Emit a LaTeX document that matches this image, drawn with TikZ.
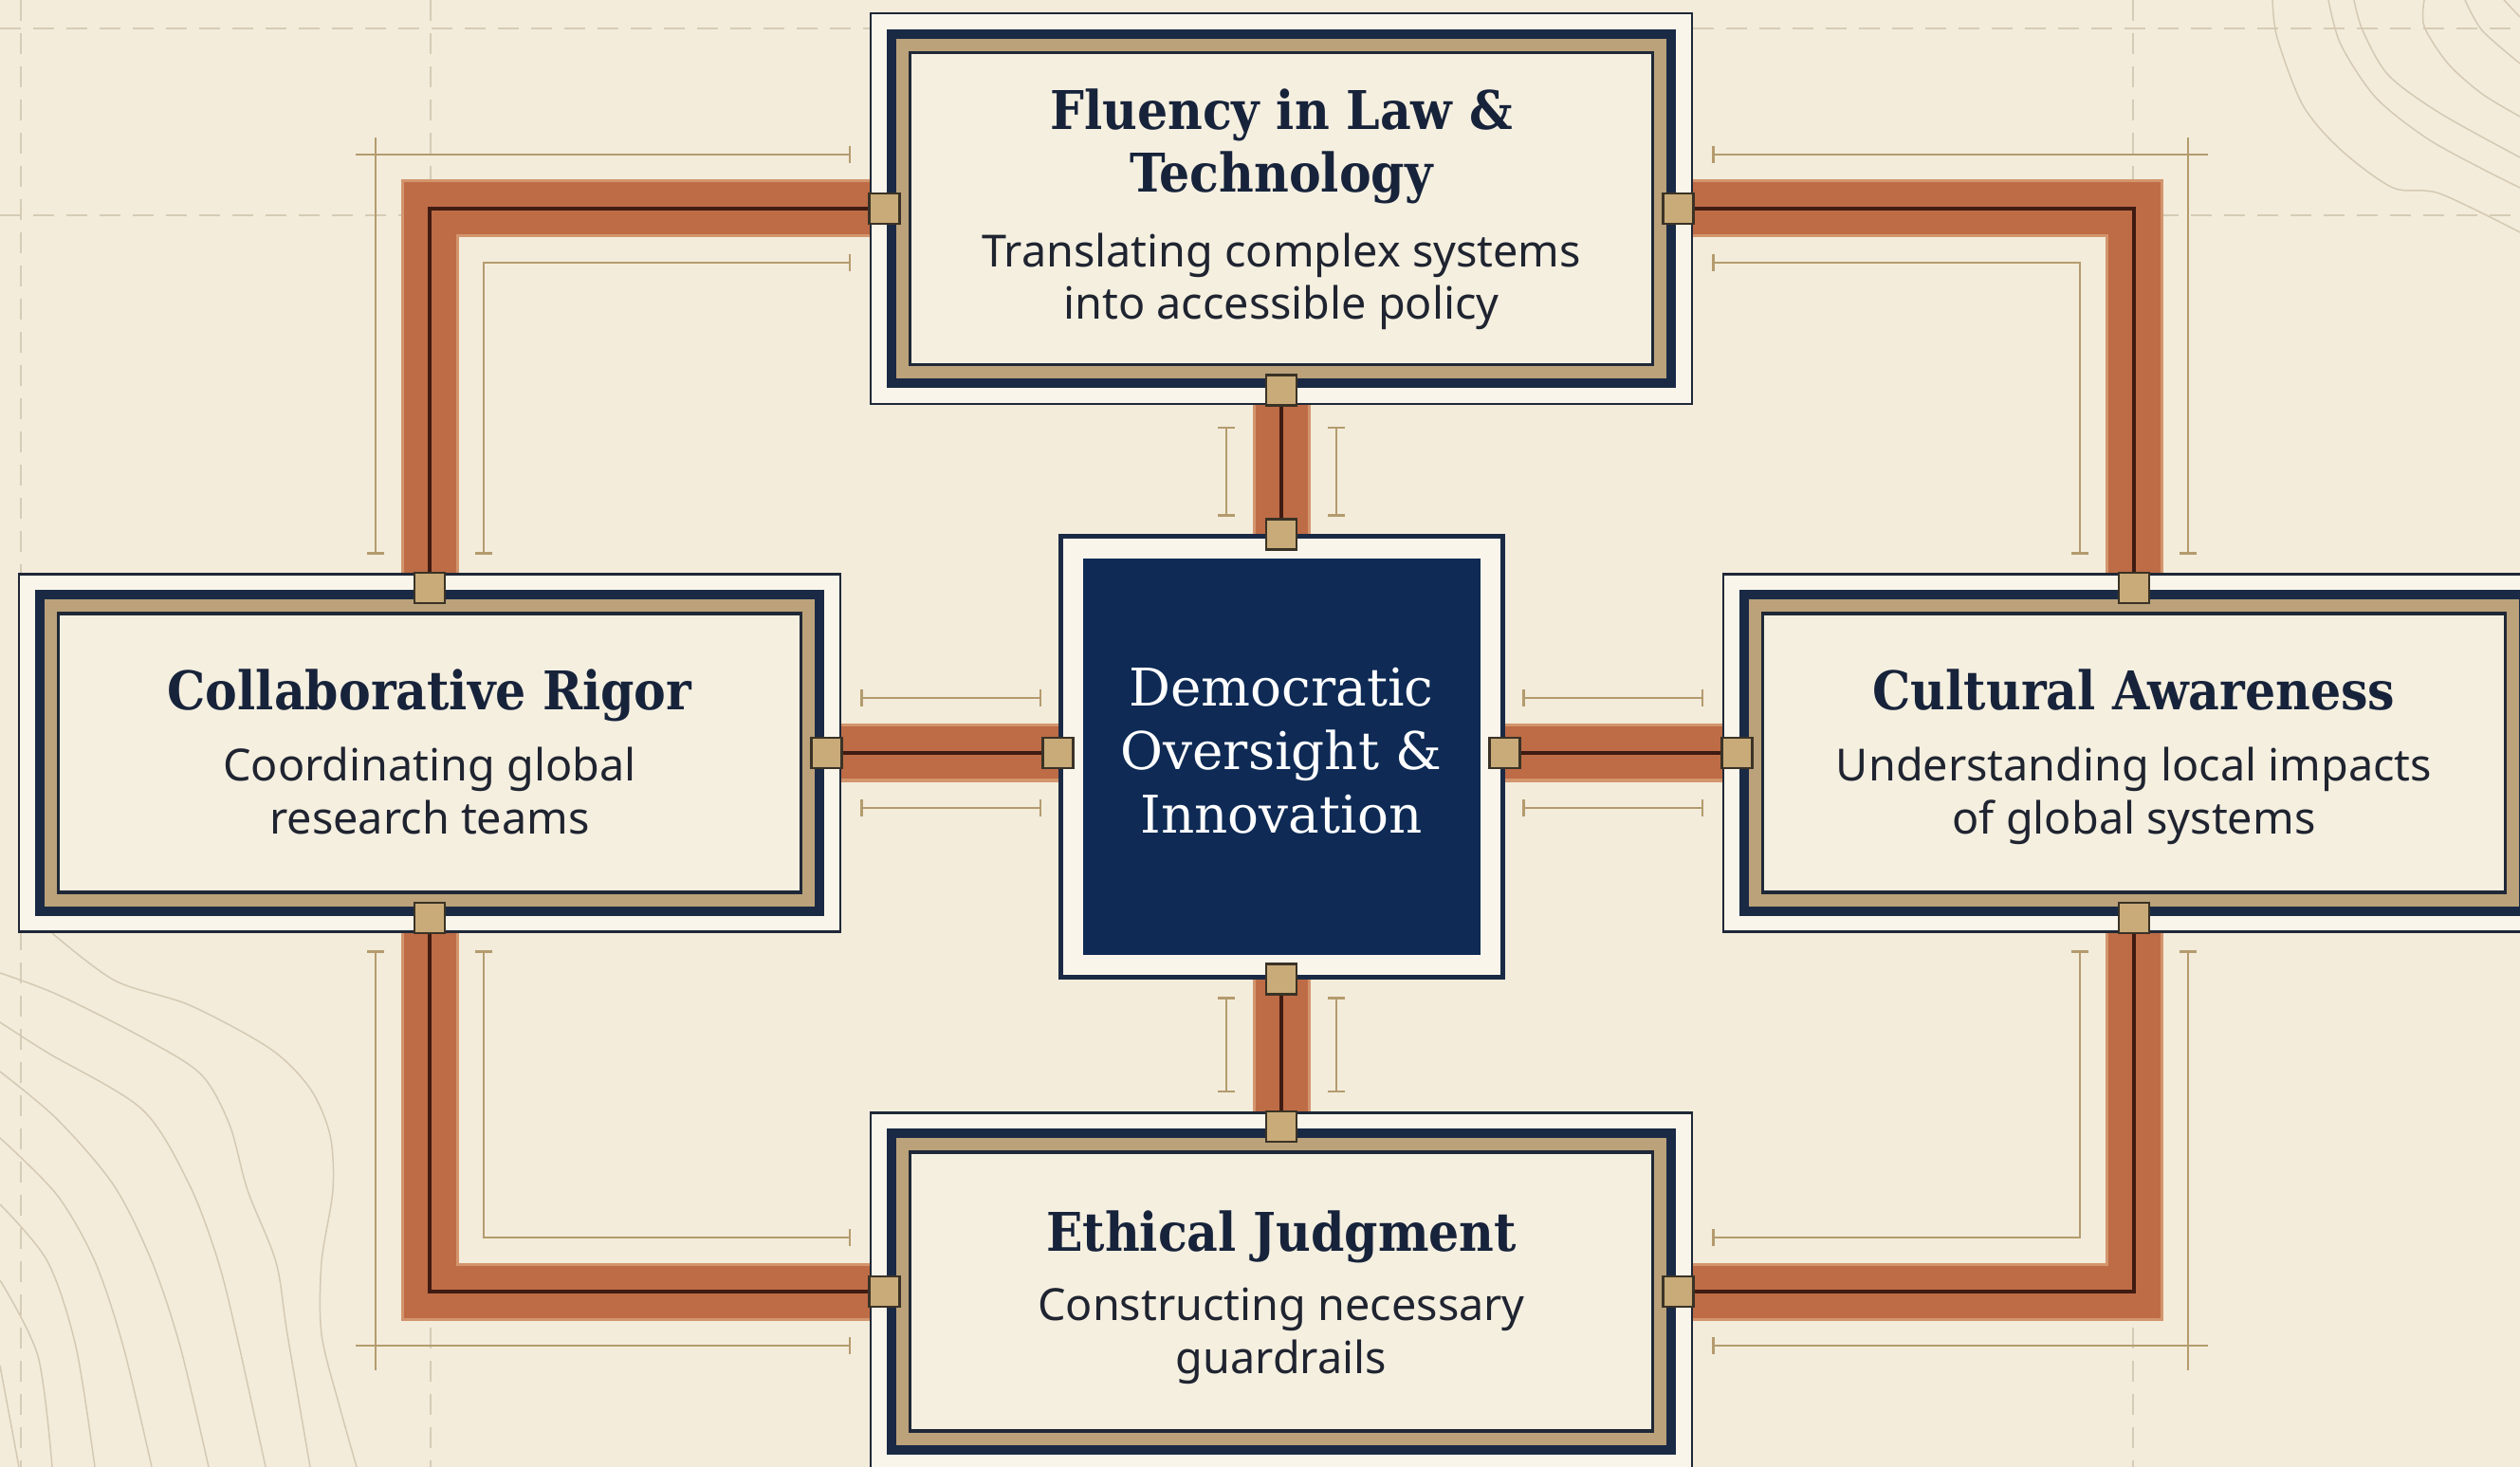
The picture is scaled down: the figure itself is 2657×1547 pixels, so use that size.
\documentclass[tikz,border=0pt]{standalone}
\usepackage{fontspec}
\usetikzlibrary{calc,arrows.meta}
\newfontfamily\headfont{DejaVu Serif Condensed}
\newfontfamily\corefont{DejaVu Serif}
\newfontfamily\notefont{Noto Sans}
\definecolor{paper}{HTML}{F3ECDB}
\definecolor{boxgap}{HTML}{F9F5EA}
\definecolor{boxfill}{HTML}{F5EFE0}
\definecolor{boxline}{HTML}{1F2837}
\definecolor{navy}{HTML}{1A2A45}
\definecolor{navyfill}{HTML}{0E2A55}
\definecolor{tan}{HTML}{BBA27A}
\definecolor{wirecolor}{HTML}{BE6C46}
\definecolor{wireglow}{HTML}{D3956D}
\definecolor{wireink}{HTML}{3F1B12}
\definecolor{jointfill}{HTML}{C8AB78}
\definecolor{jointline}{HTML}{3A3226}
\definecolor{dimcolor}{HTML}{B49B6E}
\definecolor{gridcolor}{HTML}{D6CBB5}
\definecolor{contourcolor}{HTML}{D5C9B3}
\definecolor{titleink}{HTML}{17233A}
\definecolor{noteink}{HTML}{1F2430}

\begin{document}
\begin{tikzpicture}[x=0.1mm,y=-0.1mm,
    pillar/.style={draw=boxline,line width=0.28mm,fill=boxgap,inner sep=0pt,minimum width=86.6mm},
    hub/.style={draw=navy,line width=0.5mm,fill=boxgap,inner sep=0pt,minimum width=46.6mm,minimum height=46.4mm},
    navyrule/.style={draw=navy,line width=1mm},
    tanrule/.style={draw=tan,line width=1.4mm},
    inkrule/.style={draw=boxline,line width=0.35mm},
    wire/.style={draw=wireglow,line width=6.1mm,line join=miter,
      postaction={draw=wirecolor,line width=5.5mm},
      postaction={draw=wireink,line width=0.35mm}},
    joint/.style={draw=jointline,line width=0.25mm,fill=jointfill,inner sep=0pt,minimum size=3.2mm},
    dimline/.style={draw=dimcolor,line width=0.25mm},
    tickend/.style={dimline,-{Bar[width=1.8mm]}},
    tickboth/.style={dimline,{Bar[width=1.8mm]}-{Bar[width=1.8mm]}},
    gridline/.style={draw=gridcolor,line width=0.2mm,dash pattern=on 2.2mm off 1.3mm},
    contour/.style={draw=contourcolor,line width=0.15mm},
    headtext/.style={font=\headfont\bfseries\fontsize{16}{19}\selectfont,text=titleink,align=center,inner sep=0pt,anchor=base},
    notetext/.style={font=\notefont\fontsize{13.3}{15.9}\selectfont,text=noteink,align=center,inner sep=0pt,anchor=base},
    coretext/.style={font=\corefont\fontsize{15.6}{19}\selectfont,text=white,align=center,inner sep=0pt,anchor=base}]
       \useasboundingbox (0,0) rectangle (2657,1547);
       \clip (0,0) rectangle (2657,1547);
       \fill[paper] (0,0) rectangle (2657,1547);
       % drafting grid and contours
       \draw[gridline] (22,0) -- (22,1547);
       \draw[gridline] (454,0) -- (454,1547);
       \draw[gridline] (2249,0) -- (2249,1547);
       \draw[gridline] (0,30) -- (2657,30);
       \draw[gridline] (0,227) -- (2657,227);
       \draw[contour] plot[smooth] coordinates {(2396,0) (2401,40) (2428,111) (2468,158) (2523,198) (2572,204) (2657,245)};
       \draw[contour] plot[smooth] coordinates {(2455,0) (2468,47) (2505,103) (2559,146) (2617,178) (2657,198)};
       \draw[contour] plot[smooth] coordinates {(2482,0) (2491,32) (2518,79) (2572,119) (2657,166)};
       \draw[contour] plot[smooth] coordinates {(2556,0) (2556,28) (2581,67) (2617,99) (2657,123)};
       \draw[contour] plot[smooth] coordinates {(2599,0) (2617,32) (2657,67)};
       \draw[contour] plot[smooth] coordinates {(2640,0) (2657,18)};
       \draw[contour] plot[smooth] coordinates {(55,984) (121,1034) (200,1060) (285,1106) (327,1148) (348,1197) (351,1255) (339,1331) (339,1407) (358,1483) (376,1547)};
       \draw[contour] plot[smooth] coordinates {(0,1026) (61,1049) (152,1095) (212,1133) (242,1186) (261,1255) (291,1331) (303,1407) (327,1547)};
       \draw[contour] plot[smooth] coordinates {(0,1078) (50,1110) (150,1170) (200,1250) (230,1330) (250,1410) (280,1547)};
       \draw[contour] plot[smooth] coordinates {(0,1130) (60,1180) (120,1250) (160,1330) (190,1420) (220,1547)};
       \draw[contour] plot[smooth] coordinates {(0,1200) (60,1260) (100,1330) (130,1420) (160,1547)};
       \draw[contour] plot[smooth] coordinates {(0,1270) (50,1330) (80,1420) (100,1547)};
       \draw[contour] plot[smooth] coordinates {(0,1350) (40,1430) (55,1547)};
       \draw[contour] plot[smooth] coordinates {(0,1440) (20,1547)};
       % boxes
       \coordinate (T) at (1351,220);
       \coordinate (L) at (453,794);
       \coordinate (R) at (2250,794);
       \coordinate (B) at (1351,1362);
       \coordinate (H) at (1351,798);
       \node[pillar,minimum height=41.2mm] (law) at (T) {};
       \node[pillar,minimum height=37.7mm] (rigor) at (L) {};
       \node[pillar,minimum height=37.7mm] (culture) at (R) {};
       \node[pillar,minimum height=37.7mm] (ethics) at (B) {};
       \node[hub] (core) at (H) {};
       \fill[boxfill] ($(law.north west)+(18,18)$) rectangle ($(law.south east)+(-18,-18)$);
       \draw[navyrule] ($(law.north west)+(23,23)$) rectangle ($(law.south east)+(-23,-23)$);
       \draw[tanrule] ($(law.north west)+(35,35)$) rectangle ($(law.south east)+(-35,-35)$);
       \draw[inkrule] ($(law.north west)+(43,43)$) rectangle ($(law.south east)+(-43,-43)$);
       \fill[boxfill] ($(rigor.north west)+(18,18)$) rectangle ($(rigor.south east)+(-18,-18)$);
       \draw[navyrule] ($(rigor.north west)+(23,23)$) rectangle ($(rigor.south east)+(-23,-23)$);
       \draw[tanrule] ($(rigor.north west)+(35,35)$) rectangle ($(rigor.south east)+(-35,-35)$);
       \draw[inkrule] ($(rigor.north west)+(43,43)$) rectangle ($(rigor.south east)+(-43,-43)$);
       \fill[boxfill] ($(culture.north west)+(18,18)$) rectangle ($(culture.south east)+(-18,-18)$);
       \draw[navyrule] ($(culture.north west)+(23,23)$) rectangle ($(culture.south east)+(-23,-23)$);
       \draw[tanrule] ($(culture.north west)+(35,35)$) rectangle ($(culture.south east)+(-35,-35)$);
       \draw[inkrule] ($(culture.north west)+(43,43)$) rectangle ($(culture.south east)+(-43,-43)$);
       \fill[boxfill] ($(ethics.north west)+(18,18)$) rectangle ($(ethics.south east)+(-18,-18)$);
       \draw[navyrule] ($(ethics.north west)+(23,23)$) rectangle ($(ethics.south east)+(-23,-23)$);
       \draw[tanrule] ($(ethics.north west)+(35,35)$) rectangle ($(ethics.south east)+(-35,-35)$);
       \draw[inkrule] ($(ethics.north west)+(43,43)$) rectangle ($(ethics.south east)+(-43,-43)$);
       \fill[navyfill] ($(core.north west)+(26,26)$) rectangle ($(core.south east)+(-26,-26)$);
       % texts (base = last line)
       \node[headtext] (lawtitle) at ($(law.center)+(0,-17)$) {Fluency in Law \&\\Technology};
       \node[notetext] (lawnote) at ($(law.center)+(0,117)$) {Translating complex systems\\into accessible policy};
       \node[headtext] (rigortitle) at ($(rigor.center)+(0,-46)$) {Collaborative Rigor};
       \node[notetext] (rigornote) at ($(rigor.center)+(0,85)$) {Coordinating global\\research teams};
       \node[headtext] (culturetitle) at ($(culture.center)+(0,-46)$) {Cultural Awareness};
       \node[notetext] (culturenote) at ($(culture.center)+(0,85)$) {Understanding local impacts\\of global systems};
       \node[headtext] (ethicstitle) at ($(ethics.center)+(0,-43)$) {Ethical Judgment};
       \node[notetext] (ethicsnote) at ($(ethics.center)+(0,86)$) {Constructing necessary\\guardrails};
       \node[coretext] (coretitle) at ($(core.center)+(0,80)$) {Democratic\\Oversight \&\\Innovation};
       % connectors
       \draw[wire] (law.west) -| (rigor.north);
       \draw[wire] (law.east) -| (culture.north);
       \draw[wire] (rigor.south) |- (ethics.west);
       \draw[wire] (culture.south) |- (ethics.east);
       \draw[wire] (law.south) -- (core.north);
       \draw[wire] (core.south) -- (ethics.north);
       \draw[wire] (rigor.east) -- (rigor.east -| core.west);
       \draw[wire] (culture.west) -- (culture.west -| core.east);
       % dimension marks
       \draw[tickend] (375,163) -- (897,163);
       \draw[tickend] (396,145) -- (396,585);
       \draw[tickboth] (897,277) -- (510,277) -- (510,585);
       \draw[tickend] (2328,163) -- (1805,163);
       \draw[tickend] (2307,145) -- (2307,585);
       \draw[tickboth] (1805,277) -- (2193,277) -- (2193,585);
       \draw[tickend] (396,1445) -- (396,1002);
       \draw[tickend] (375,1419) -- (897,1419);
       \draw[tickboth] (510,1002) -- (510,1305) -- (897,1305);
       \draw[tickend] (2307,1445) -- (2307,1002);
       \draw[tickend] (2328,1419) -- (1805,1419);
       \draw[tickboth] (2193,1002) -- (2193,1305) -- (1805,1305);
       \draw[tickboth] (1293,450) -- (1293,545);
       \draw[tickboth] (1409,450) -- (1409,545);
       \draw[tickboth] (1293,1051) -- (1293,1152);
       \draw[tickboth] (1409,1051) -- (1409,1152);
       \draw[tickboth] (907,736) -- (1098,736);
       \draw[tickboth] (907,852) -- (1098,852);
       \draw[tickboth] (1605,736) -- (1796,736);
       \draw[tickboth] (1605,852) -- (1796,852);
       % joints
       \node[joint] (lawW) at ($(law.west)+(16,0)$) {};
       \node[joint] (lawE) at ($(law.east)+(-16,0)$) {};
       \node[joint] (lawS) at ($(law.south)+(0,-16)$) {};
       \node[joint] (rigorN) at ($(rigor.north)+(0,16)$) {};
       \node[joint] (rigorS) at ($(rigor.south)+(0,-16)$) {};
       \node[joint] (rigorE) at ($(rigor.east)+(-16,0)$) {};
       \node[joint] (cultureN) at ($(culture.north)+(0,16)$) {};
       \node[joint] (cultureS) at ($(culture.south)+(0,-16)$) {};
       \node[joint] (cultureW) at ($(culture.west)+(16,0)$) {};
       \node[joint] (ethicsN) at ($(ethics.north)+(0,16)$) {};
       \node[joint] (ethicsW) at ($(ethics.west)+(16,0)$) {};
       \node[joint] (ethicsE) at ($(ethics.east)+(-16,0)$) {};
       \node[joint] (coreN) at (core.north) {};
       \node[joint] (coreS) at (core.south) {};
       \node[joint] (coreW) at (core.west |- rigor.east) {};
       \node[joint] (coreE) at (core.east |- culture.west) {};
     \end{tikzpicture}
\end{document}
